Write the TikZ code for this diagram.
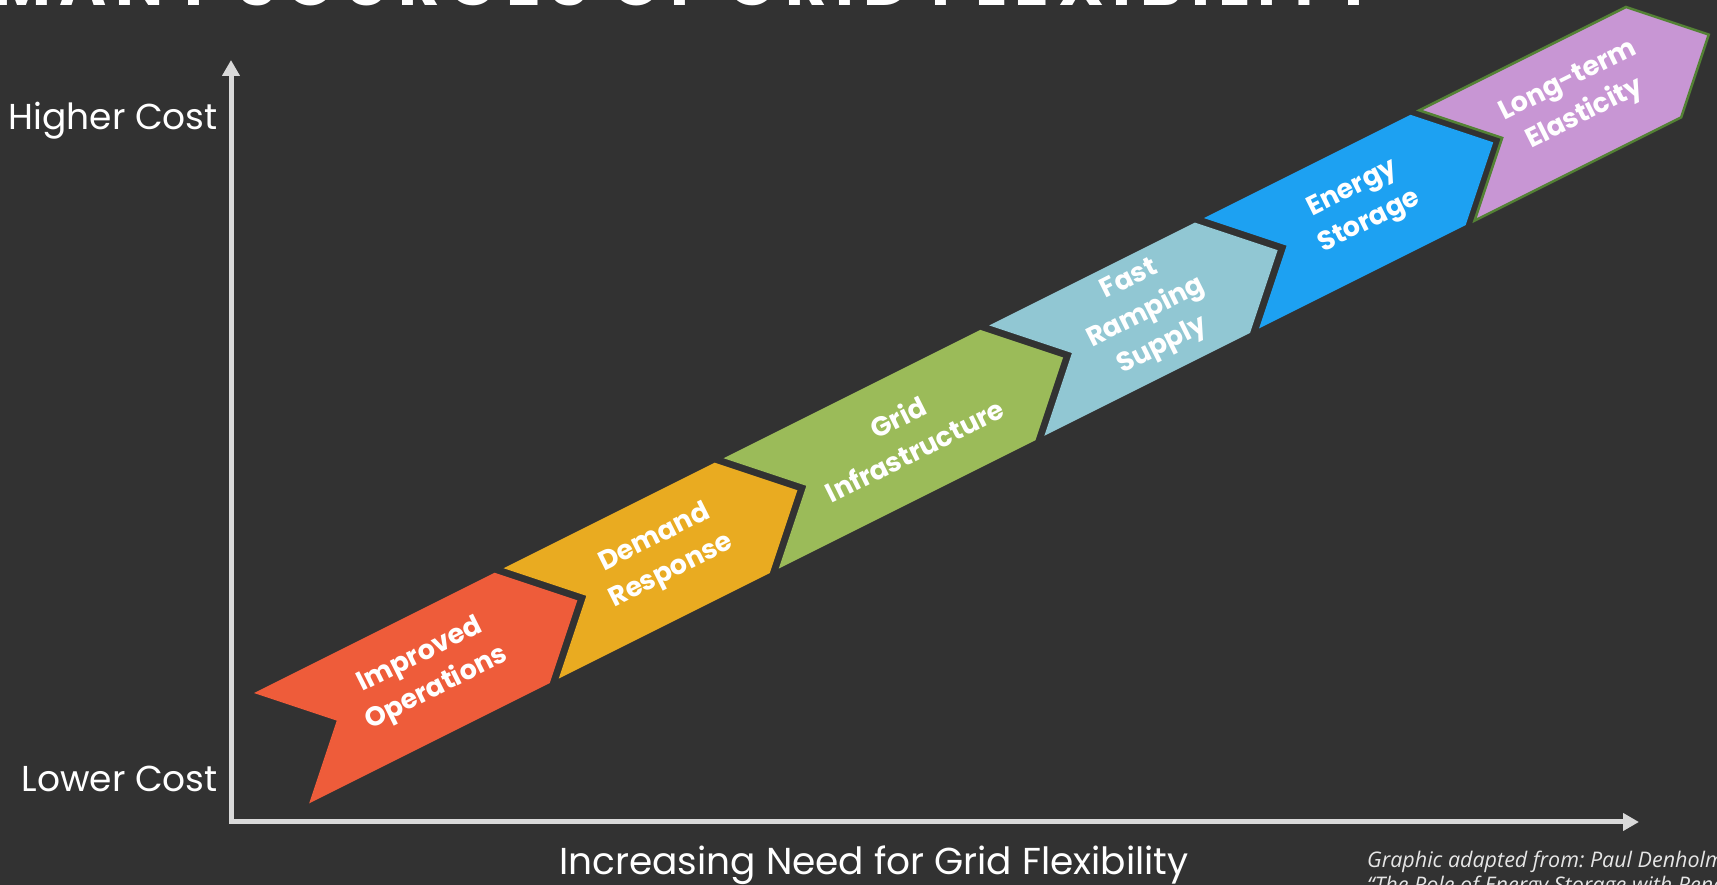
\documentclass[tikz,border=0pt]{standalone}
\usepackage{fontspec}
\setmainfont{Poppins}
\newfontfamily\notefont{Open Sans}
\newfontfamily\titlefont[LetterSpace=13.6]{Poppins}
\usepackage{xcolor}
\usepackage{tikz}
\usetikzlibrary{arrows.meta, positioning, calc}
\definecolor{bgcolor}{RGB}{50, 50, 50}
\definecolor{axiscolor}{RGB}{217, 217, 217}
\definecolor{opscolor}{RGB}{238, 92, 58}
\definecolor{demandcolor}{RGB}{233, 171, 33}
\definecolor{gridcolor}{RGB}{155, 187, 89}
\definecolor{rampcolor}{RGB}{145, 199, 211}
\definecolor{storagecolor}{RGB}{29, 161, 242}
\definecolor{elasticcolor}{RGB}{200, 150, 212}
\definecolor{edgegreen}{RGB}{84, 130, 53}
\definecolor{notecolor}{RGB}{230, 230, 230}
\frenchspacing

\begin{document}
\begin{tikzpicture}[x=1pt, y=1pt,
    axis/.style={
        draw=axiscolor, line width=5pt,
        {Triangle[length=16pt, width=17pt]}-{Triangle[length=16pt, width=17pt]}
    },
    costlabel/.style={
        text=white, inner sep=0pt, anchor=base east,
        font=\fontsize{36}{42}\selectfont
    },
    steplabel/.style={
        text=white, inner sep=0pt, align=center, transform shape,
        font=\fontsize{27}{37}\selectfont\bfseries
    },
    note/.style={
        anchor=base west, inner sep=0pt, text=notecolor,
        font=\notefont\itshape\fontsize{21.5}{25}\selectfont
    }
]

% Canvas
\clip (0, 0) rectangle (1717, 885);
\fill[bgcolor] (0, 0) rectangle (1717, 885);

% Title (cut off by the top edge)
\node[anchor=base west, inner sep=0pt, text=white, font=\titlefont\fontsize{64}{70}\selectfont\bfseries] (title) at (-8, 879) {MANY SOURCES OF GRID FLEXIBILITY};

% Axes
\coordinate (origin) at (231, 63);
\coordinate (ytop) at (231, 825);
\coordinate (xend) at (1639, 63);
\draw[axis] (ytop) -- (origin) -- (xend);

% Axis labels
\node[costlabel] (high) at (218, 755) {Higher Cost};
\node[costlabel] (low) at (218, 93) {Lower Cost};
\node[anchor=base, inner sep=0pt, text=white, font=\fontsize{37.5}{42}\selectfont] (need) at (874, 10) {Increasing Need for Grid Flexibility};

% Source
\node[note] (src1) at (1367, 17) {Graphic adapted from: Paul Denholm};
\node[note] (src2) at (1367, -8) {“The Role of Energy Storage with Renewable Electricity Generation”};

% Flexibility options along the rising band
\begin{scope}[shift={(281.6, 136.8)}, rotate=26.565]
\foreach \s/\len/\col/\edge/\name/\txt in {
    0/269/opscolor/none/ops/{Improved\\Operations},
    279/236/demandcolor/none/demand/{Demand\\Response},
    525/287/gridcolor/none/grid/{Grid\\Infrastructure},
    822/230/rampcolor/none/ramp/{Fast\\Ramping\\Supply},
    1062/231/storagecolor/none/storage/{Energy\\Storage},
    1303/231/elasticcolor/edgegreen/elastic/{Long-term\\Elasticity}} {
    \filldraw[fill=\col, draw=\edge, line width=2.5pt, line join=miter]
        (\s, 61.7) -- ++(\len, 0) -- ++(61.7, -61.7) -- ++(-61.7, -61.7)
        -- (\s, -61.7) -- ++(61.7, 61.7) -- cycle;
    \node[steplabel] (\name) at ({\s + (\len + 61.7)/2}, 2) {\txt};
}
\end{scope}

\end{tikzpicture}
\end{document}
